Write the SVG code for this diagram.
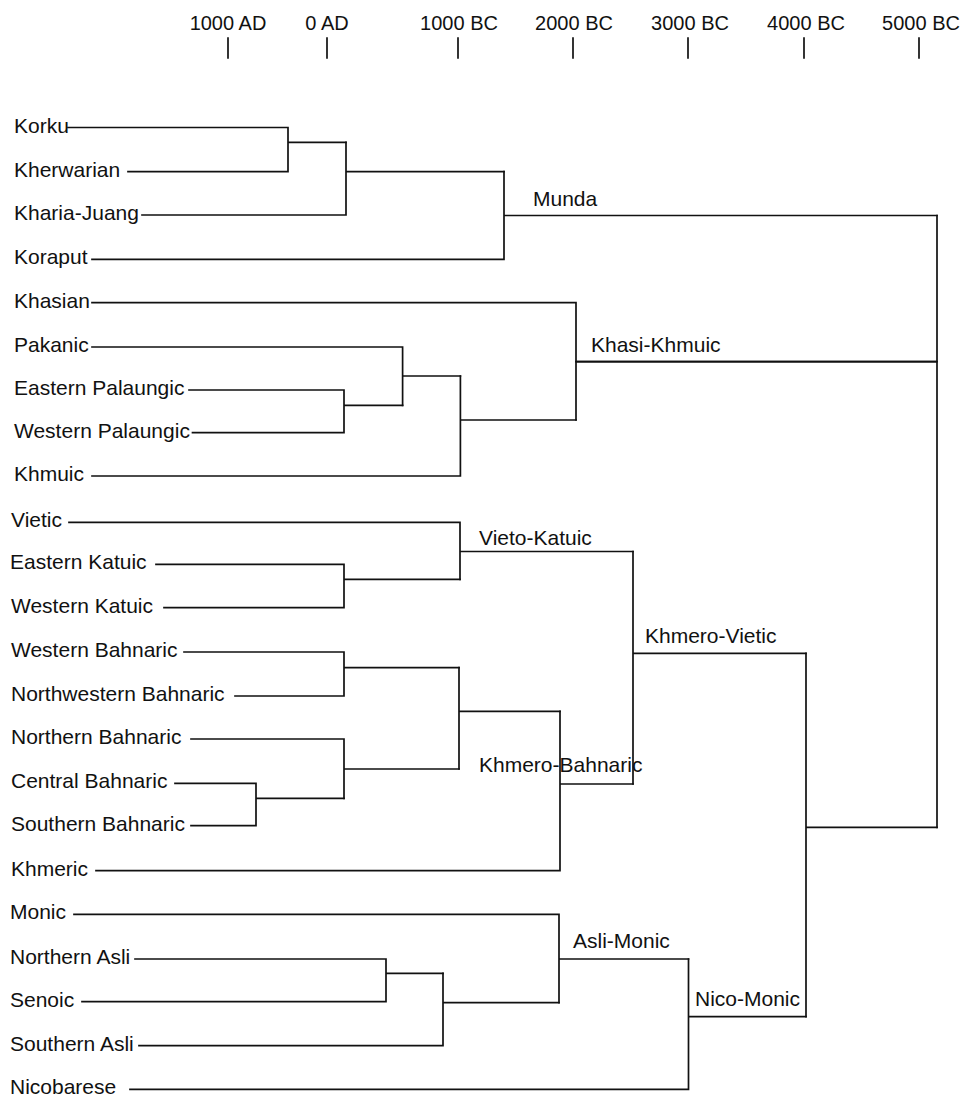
<svg xmlns="http://www.w3.org/2000/svg" width="971" height="1102" viewBox="0 0 971 1102">
<style>
text{font-family:"Liberation Sans",Arial,Helvetica,sans-serif;font-size:21px;fill:#111}
.ax{text-anchor:middle;font-size:20px}
.c path,.tick{fill:none;stroke:#111;stroke-width:1.7;stroke-linecap:square}
</style>
<rect width="971" height="1102" fill="#fff"/>
<g id="axis">
<text class="ax" x="228" y="30">1000 AD</text>
<text class="ax" x="327" y="30">0 AD</text>
<text class="ax" x="459" y="30">1000 BC</text>
<text class="ax" x="574" y="30">2000 BC</text>
<text class="ax" x="690" y="30">3000 BC</text>
<text class="ax" x="806" y="30">4000 BC</text>
<text class="ax" x="921" y="30">5000 BC</text>
<path class="tick" d="M228,38V58M327,38V58M458,38V58M573,38V58M688,38V58M804,38V58M919,38V58"/>
</g>
<g id="leaves">
<g id="korku"><text x="14" y="132.5">Korku</text></g>
<g id="kherwarian"><text x="14" y="176.7">Kherwarian</text></g>
<g id="kharia-juang"><text x="14" y="220">Kharia-Juang</text></g>
<g id="koraput"><text x="14" y="264.3">Koraput</text></g>
<g id="khasian"><text x="14" y="307.7">Khasian</text></g>
<g id="pakanic"><text x="14" y="352">Pakanic</text></g>
<g id="eastern-palaungic"><text x="14" y="395">Eastern Palaungic</text></g>
<g id="western-palaungic"><text x="14" y="437.7">Western Palaungic</text></g>
<g id="khmuic"><text x="14" y="481">Khmuic</text></g>
<g id="vietic"><text x="11" y="527.3">Vietic</text></g>
<g id="eastern-katuic"><text x="10" y="569.3">Eastern Katuic</text></g>
<g id="western-katuic"><text x="11" y="612.7">Western Katuic</text></g>
<g id="western-bahnaric"><text x="11" y="657">Western Bahnaric</text></g>
<g id="northwestern-bahnaric"><text x="11" y="701">Northwestern Bahnaric</text></g>
<g id="northern-bahnaric"><text x="11" y="744">Northern Bahnaric</text></g>
<g id="central-bahnaric"><text x="11" y="788.3">Central Bahnaric</text></g>
<g id="southern-bahnaric"><text x="11" y="830.7">Southern Bahnaric</text></g>
<g id="khmeric"><text x="11" y="875.7">Khmeric</text></g>
<g id="monic"><text x="10" y="919.3">Monic</text></g>
<g id="northern-asli"><text x="10" y="964">Northern Asli</text></g>
<g id="senoic"><text x="10" y="1006.7">Senoic</text></g>
<g id="southern-asli"><text x="10" y="1050.7">Southern Asli</text></g>
<g id="nicobarese"><text x="10" y="1094.3">Nicobarese</text></g>
</g>
<g id="clades">
<g id="munda"><text x="533" y="206">Munda</text></g>
<g id="khasi-khmuic"><text x="591" y="352">Khasi-Khmuic</text></g>
<g id="vieto-katuic"><text x="479" y="545">Vieto-Katuic</text></g>
<g id="khmero-vietic"><text x="645" y="643">Khmero-Vietic</text></g>
<g id="khmero-bahnaric"><text x="479" y="772">Khmero-Bahnaric</text></g>
<g id="asli-monic"><text x="573" y="948">Asli-Monic</text></g>
<g id="nico-monic"><text x="695" y="1006">Nico-Monic</text></g>
</g>
<g id="connectors" class="c">
<path d="M68,127.5H288V171.7H128M288,142.3H346"/>
<path d="M142,215H346V142.3M346,171.7H504"/>
<path d="M92,259.3H504V171.7M504,215.5H937"/>
<path d="M189,390H344V432.7H192.5M344,405.3H402.6"/>
<path d="M92,347H402.6V405.3M402.6,376H460.4"/>
<path d="M92,476H460.4V376M460.4,420H576"/>
<path d="M92,302.7H576V420M576,361.7H937"/>
<path d="M156,564.3H344V607.7H164M344,579.3H460"/>
<path d="M69,522.3H460V579.3M460,551.5H633"/>
<path d="M184,652H344V696H235M344,667.7H459"/>
<path d="M175,783.3H256V825.7H191M256,798.3H344"/>
<path d="M191,739H344V798.3M344,769H459"/>
<path d="M459,667.7V769M459,711.3H560"/>
<path d="M96,870.7H560V711.3M560,784H633"/>
<path d="M633,551.5V784M633,653.3H806"/>
<path d="M135,959H386V1001.7H82M386,973.3H443"/>
<path d="M139,1045.7H443V973.3M443,1002.7H559"/>
<path d="M74,914.3H559V1002.7M559,959H688.5"/>
<path d="M130,1089.3H688.5V959M688.5,1016.7H806"/>
<path d="M806,653.3V1016.7M806,827.3H937"/>
<path d="M937,215.5V827.3M576,361.7H937"/>
</g>
</svg>
